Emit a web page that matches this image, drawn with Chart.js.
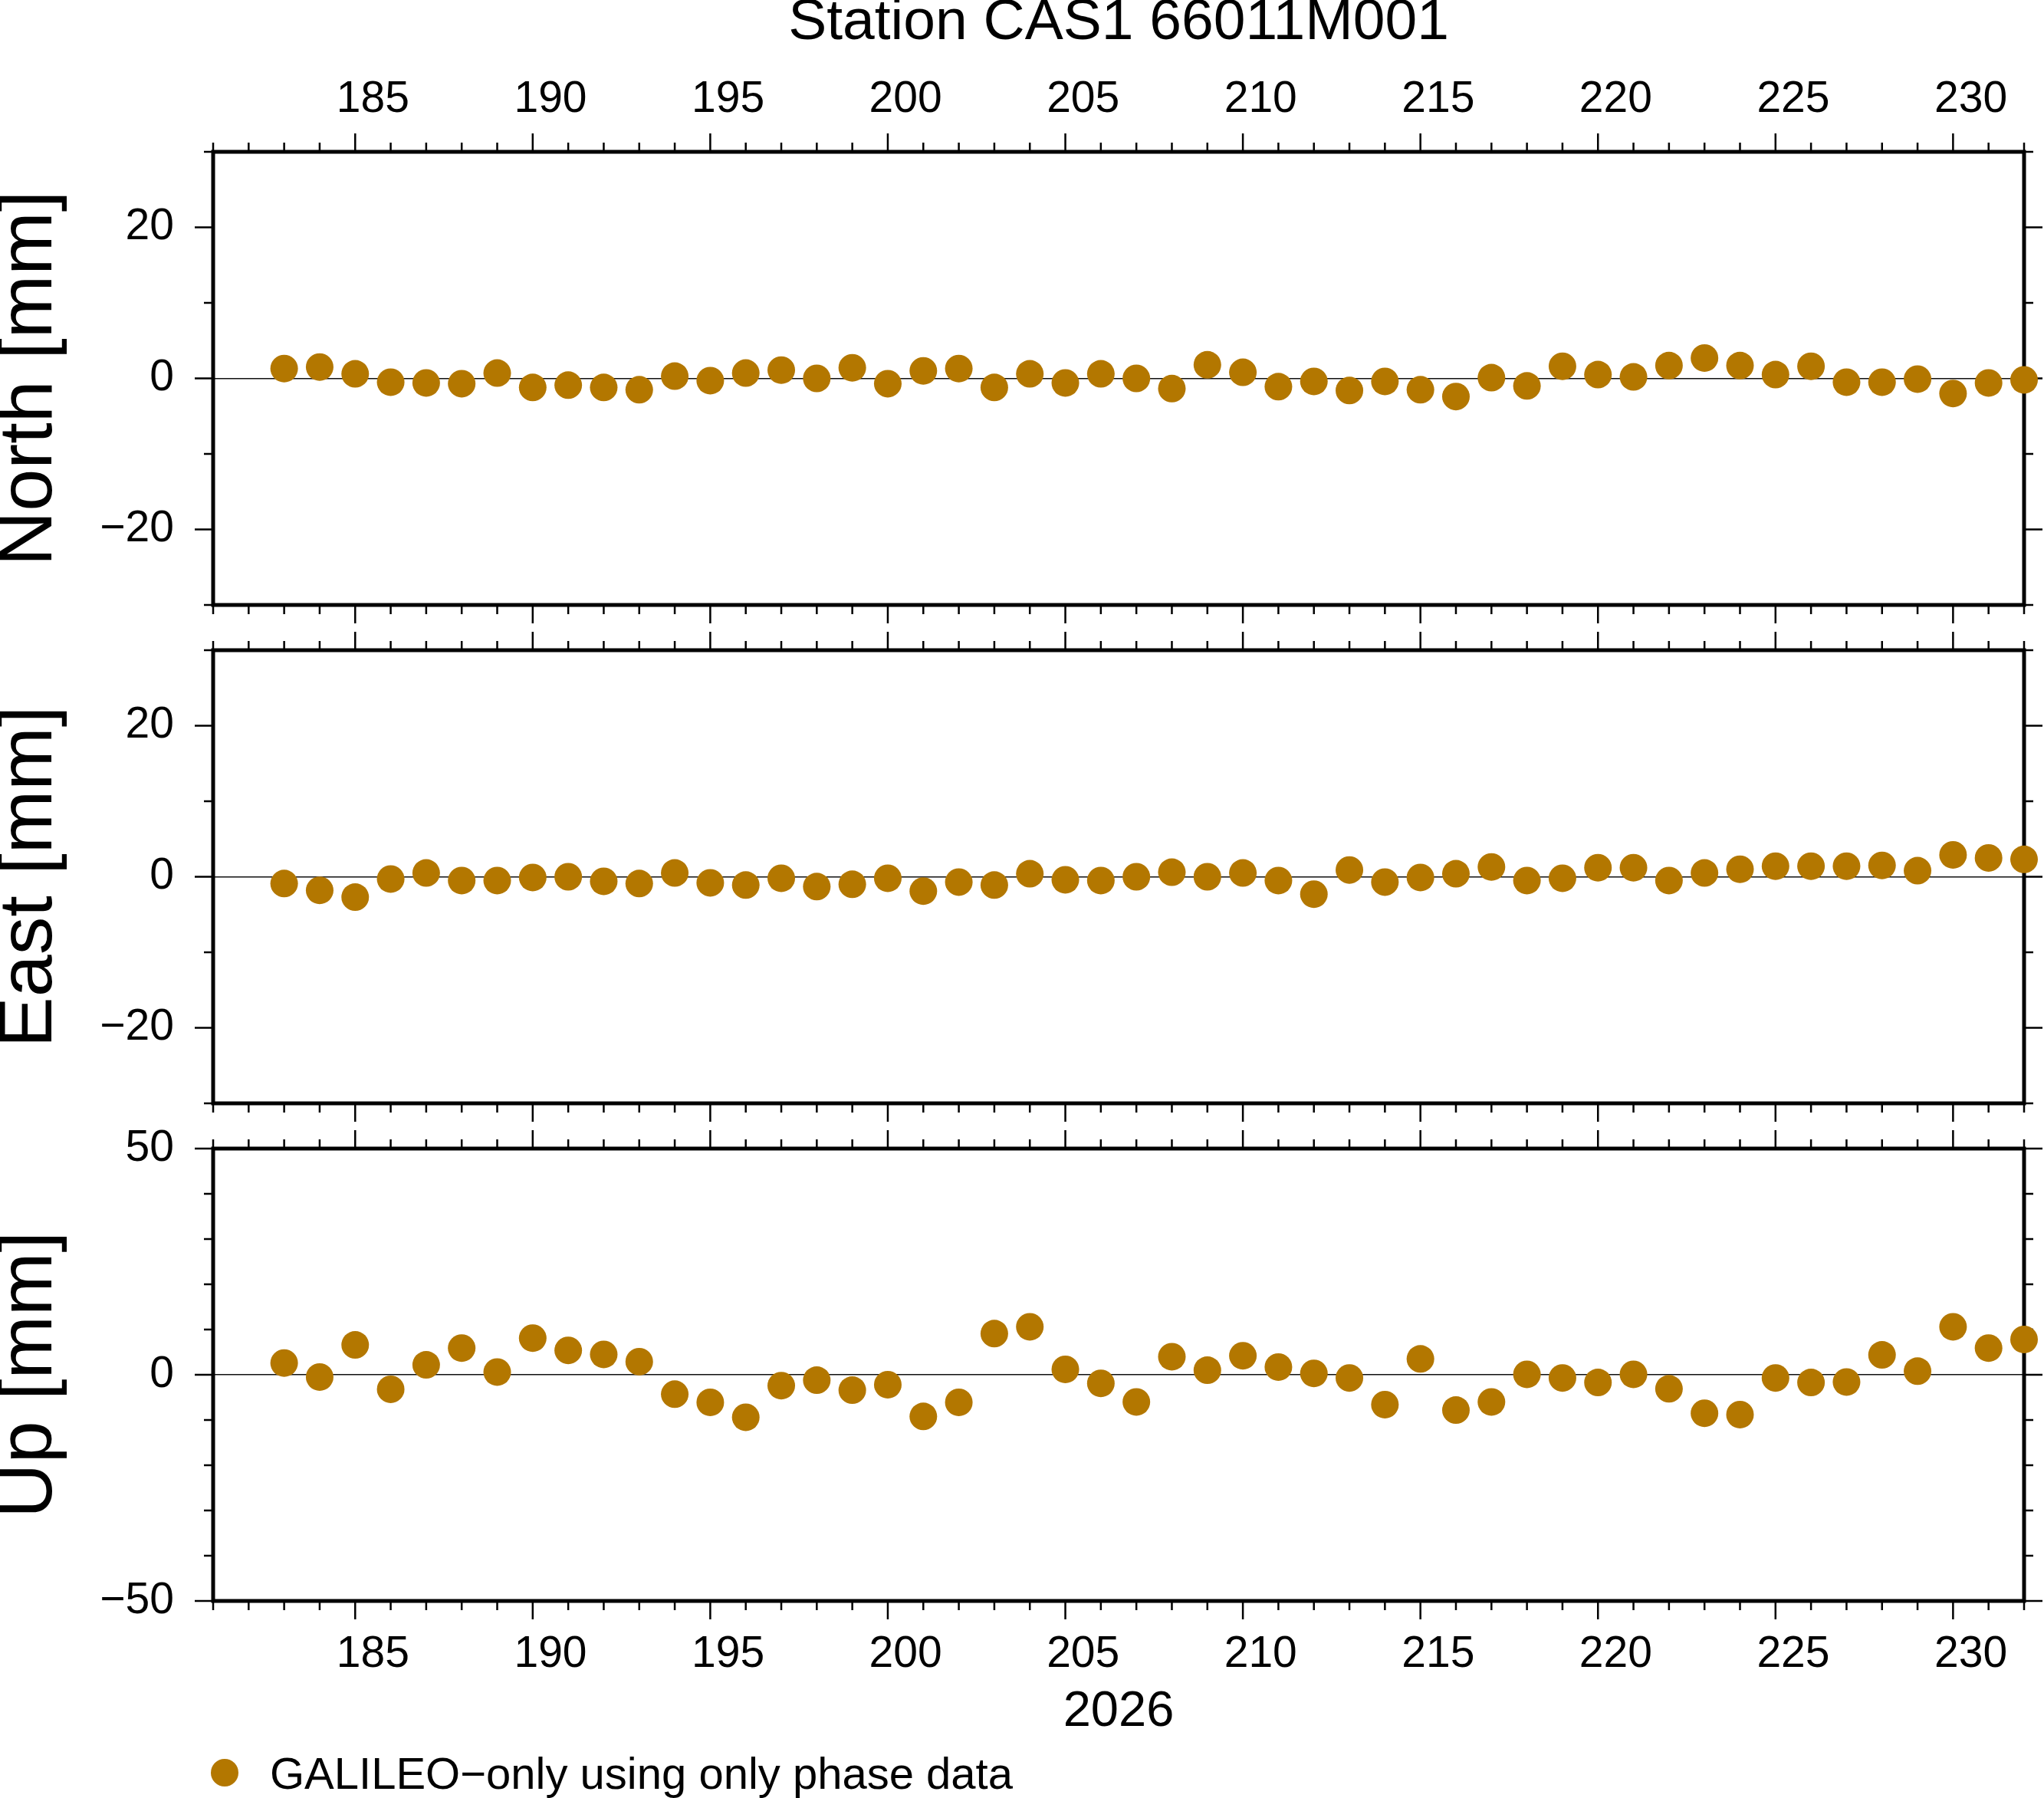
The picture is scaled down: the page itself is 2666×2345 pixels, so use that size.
<!DOCTYPE html>
<html>
<head>
<meta charset="utf-8">
<script src="https://cdn.jsdelivr.net/npm/chart.js@4.4.1/dist/chart.umd.min.js"></script>
<style>
  html, body { margin: 0; padding: 0; background: #fff; }
  body { width: 2666px; height: 2345px; position: relative; overflow: hidden; }
  canvas { position: absolute; left: 0; top: 0; width: 2666px; height: 2345px; }
  #legend { position: absolute; left: 275px; top: 2272px; height: 80px; display: flex; align-items: center;
            font-family: 'Liberation Sans', Arial, Helvetica, sans-serif; font-size: 58px; color: #000; white-space: nowrap; }
  #legend .dot { width: 36px; height: 36px; border-radius: 50%; margin-right: 41px; }
</style>
</head>
<body>
<canvas id="cN" width="2666" height="2345"></canvas>
<canvas id="cE" width="2666" height="2345"></canvas>
<canvas id="cU" width="2666" height="2345"></canvas>
<div id="legend"><span class="dot"></span><span id="legendText"></span></div>
<script>
// day of year 2026
var days = [183,184,185,186,187,188,189,190,191,192,193,194,195,196,197,198,199,200,201,202,203,204,205,206,
            207,208,209,210,211,212,213,214,215,216,217,218,219,220,221,222,223,224,225,226,227,228,229,230,231,232];
// residuals in mm
var north = [1.3,1.5,0.6,-0.5,-0.6,-0.7,0.7,-1.2,-0.9,-1.2,-1.5,0.3,-0.3,0.7,1.1,0.0,1.4,-0.7,1.0,1.3,-1.2,0.6,-0.6,0.6,
             0.0,-1.35,1.8,0.8,-1.1,-0.4,-1.6,-0.4,-1.5,-2.4,0.1,-1.0,1.6,0.5,0.2,1.7,2.7,1.7,0.5,1.6,-0.5,-0.5,-0.1,-2.0,-0.6,-0.2];
var east = [-0.9,-1.8,-2.7,-0.3,0.5,-0.5,-0.5,-0.1,0.0,-0.6,-0.9,0.5,-0.8,-1.1,-0.2,-1.3,-1.0,-0.2,-1.9,-0.7,-1.1,0.4,-0.4,-0.5,
            0.0,0.6,0.0,0.5,-0.5,-2.3,0.9,-0.7,-0.1,0.4,1.3,-0.5,-0.2,1.2,1.2,-0.5,0.5,1.0,1.4,1.4,1.4,1.5,0.8,2.9,2.5,2.3];
var up = [2.6,-0.5,6.6,-3.2,2.2,5.9,0.6,8.1,5.4,4.5,2.9,-4.3,-6.1,-9.4,-2.4,-1.2,-3.4,-2.2,-9.2,-6.1,9.1,10.6,1.2,-1.9,
          -6.0,4.0,1.0,4.2,1.7,0.3,-0.7,-6.6,3.5,-7.8,-6.0,0.1,-0.7,-1.7,0.1,-3.1,-8.5,-8.8,-0.7,-1.7,-1.6,4.4,0.8,10.6,5.9,7.8];

var dayTicks = [185,190,195,200,205,210,215,220,225,230];
var nevTicks = [-20,0,20];
var upTicks = [-50,0,50];
var xMin = 181, xMax = 232;
var titleText = 'Station CAS1 66011M001';
var yearText = '2026';
var seriesLabel = 'GALILEO\u2212only using only phase data';
var pointColor = '#b37700';

var FONT = "'Liberation Sans', Arial, Helvetica, sans-serif";
var W = 2666, H = 2345;
var PLOT_L = 278, PLOT_R = 2640;
var halfDay = (PLOT_R - PLOT_L) / (xMax - xMin) / 2;

Chart.defaults.font.family = FONT;
Chart.defaults.color = '#000';

function fmt(v) {
    return v < 0 ? '\u2212' + Math.abs(v) : String(v);
}

// frame + outward ticks on all four sides
var frameTicks = {
    id: 'frameTicks',
    beforeDatasetsDraw: function(chart, args, opts) {
        var ctx = chart.ctx, a = chart.chartArea;
        var x = chart.scales.x, y = chart.scales.y;
        ctx.save();
        ctx.strokeStyle = '#000';
        ctx.lineWidth = 2.5;
        ctx.beginPath();
        for (let d = xMin; d <= xMax; d++) {
            let px = x.getPixelForValue(d);
            let len = d % 5 === 0 ? 24 : 12;
            ctx.moveTo(px, a.top); ctx.lineTo(px, a.top - len);
            ctx.moveTo(px, a.bottom); ctx.lineTo(px, a.bottom + len);
        }
        for (let v = y.min; v <= y.max; v += 10) {
            let py = y.getPixelForValue(v);
            let len = v % opts.major === 0 ? 24 : 12;
            ctx.moveTo(a.left, py); ctx.lineTo(a.left - len, py);
            ctx.moveTo(a.right, py); ctx.lineTo(a.right + len, py);
        }
        ctx.stroke();
        ctx.lineWidth = 5;
        ctx.strokeRect(a.left, a.top, a.right - a.left, a.bottom - a.top);
        ctx.restore();
    }
};

function makePanel(id, vals, o) {
    var pts = [];
    for (let i = 0; i < days.length; i++) pts.push({x: days[i], y: vals[i]});

    var xScale = {
        type: 'linear', min: xMin, max: xMax,
        position: o.xPos, display: o.xShow,
        afterBuildTicks: function(s) { s.ticks = dayTicks.map(function(v) { return {value: v}; }); },
        grid: {display: false, drawTicks: false}, border: {display: false},
        ticks: {font: {size: 57, lineHeight: 1.2}, color: '#000', padding: o.xPad || 35, labelOffset: halfDay,
                maxRotation: 0, autoSkip: false, callback: function(v) { return String(v); }},
        title: {display: !!o.xTitle, text: o.xTitle || '', font: {size: 65, lineHeight: 1.2}, color: '#000', padding: 0}
    };
    if (o.xShow) xScale.afterFit = function(s) { s.height = o.xHeight; };

    return new Chart(document.getElementById(id), {
        type: 'scatter',
        data: {datasets: [{
            label: seriesLabel, data: pts, clip: false,
            backgroundColor: pointColor, borderWidth: 0, pointRadius: 18, pointHoverRadius: 18
        }]},
        options: {
            responsive: false, animation: false, devicePixelRatio: 1,
            layout: {padding: o.padding},
            plugins: {
                legend: {display: false}, tooltip: {enabled: false},
                title: {display: !!o.title, text: o.title || '', fullSize: false, color: '#000', padding: 0,
                        font: {size: 75, weight: 'normal', lineHeight: 0.8}},
                frameTicks: {major: o.major}
            },
            scales: {
                x: xScale,
                y: {
                    min: o.yMin, max: o.yMax, position: 'left',
                    afterBuildTicks: function(s) { s.ticks = o.yTicks.map(function(v) { return {value: v}; }); },
                    afterFit: function(s) { s.width = PLOT_L; },
                    grid: {drawTicks: false, lineWidth: 1.6,
                           color: function(c) { return c.tick && c.tick.value === 0 ? '#111' : 'rgba(0,0,0,0)'; }},
                    border: {display: false},
                    ticks: {font: {size: 57, lineHeight: 1.2}, color: '#000', padding: 51, callback: fmt},
                    title: {display: true, text: o.yTitle, color: '#000', padding: 0,
                            font: {size: 99, lineHeight: 0.8}}
                }
            }
        },
        plugins: [frameTicks]
    });
}

makePanel('cN', north, {
    title: titleText, xPos: 'top', xShow: true, xHeight: 198 - 60, xPad: 34,
    padding: {left: 0, right: W - PLOT_R, top: 0, bottom: H - 789},
    yMin: -30, yMax: 30, yTicks: nevTicks, major: 20, yTitle: 'North [mm]'
});
makePanel('cE', east, {
    xPos: 'bottom', xShow: false,
    padding: {left: 0, right: W - PLOT_R, top: 848, bottom: H - 1439},
    yMin: -30, yMax: 30, yTicks: nevTicks, major: 20, yTitle: 'East [mm]'
});
makePanel('cU', up, {
    xPos: 'bottom', xShow: true, xHeight: 184, xPad: 36, xTitle: yearText,
    padding: {left: 0, right: W - PLOT_R, top: 1498, bottom: H - 2088 - 184},
    yMin: -50, yMax: 50, yTicks: upTicks, major: 50, yTitle: 'Up [mm]'
});

document.querySelector('#legend .dot').style.background = pointColor;
document.getElementById('legendText').textContent = seriesLabel;
</script>
</body>
</html>
